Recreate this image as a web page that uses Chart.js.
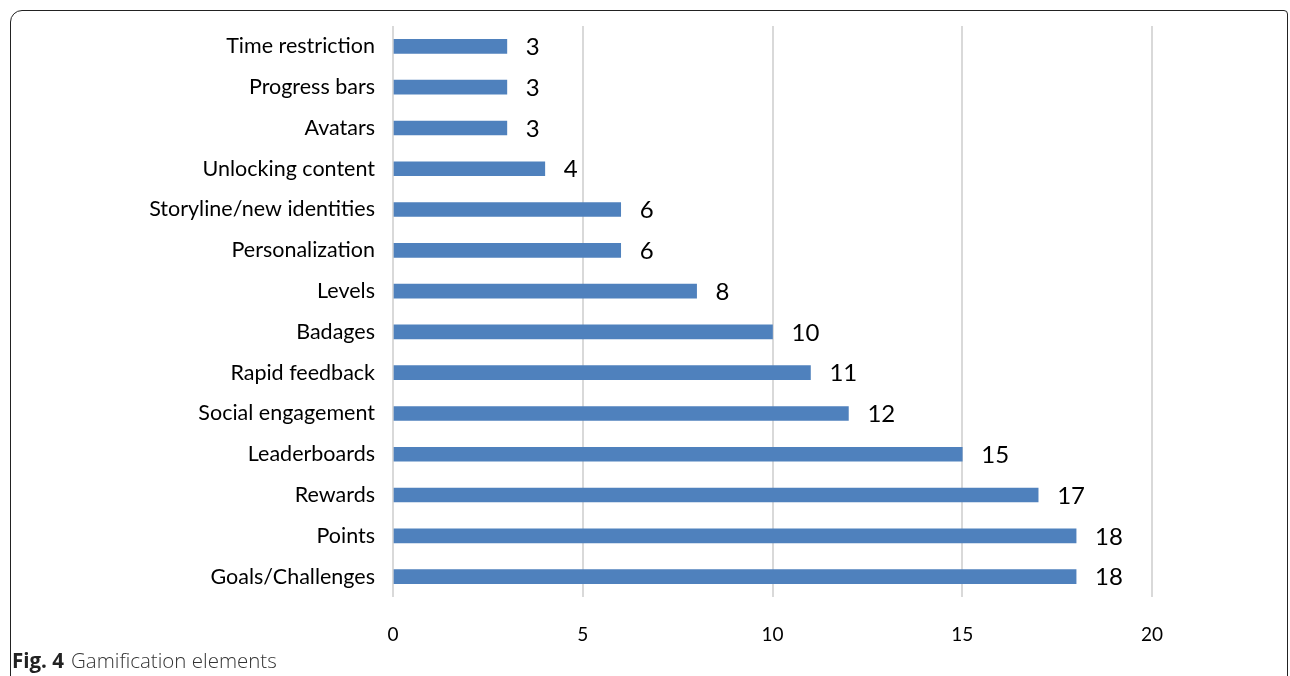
<!DOCTYPE html>
<html lang="en">
<head>
    <meta charset="UTF-8">
    <title>Gamification elements</title>
    <style>
        body {
            margin: 0;
            padding: 0;
            background-color: #fff;
            width: 1290px;
            height: 676px;
            overflow: hidden;
            position: relative;
            font-family: Lato, "Open Sans", sans-serif;
        }

        #frame {
            position: absolute;
            left: 10px;
            top: 10px;
            width: 1276px;
            height: 800px;
            border: 1.5px solid #222;
            border-top-left-radius: 12px;
            border-top-right-radius: 4px;
        }

        #chartBox {
            position: absolute;
            left: 0;
            top: 0;
            width: 1290px;
            height: 676px;
        }

        #caption {
            position: absolute;
            left: 12px;
            top: 646px;
            font-size: 20.5px;
            color: #333;
            font-family: "Open Sans", Lato, sans-serif;
        }

        #caption b {
            color: #222;
            margin-right: 7px;
        }
    </style>
</head>
<body>
    <div id="frame"></div>
    <div id="chartBox"><canvas id="elementsChart" width="1290" height="676"></canvas></div>
    <div id="caption"><b>Fig. 4</b><span style="font-weight:300">Gamification elements</span></div>

    <script src="https://cdn.jsdelivr.net/npm/chart.js"></script>
    <script>
        // top to bottom, as in the figure
        const elements = [
            'Time restriction', 'Progress bars', 'Avatars', 'Unlocking content',
            'Storyline/new identities', 'Personalization', 'Levels', 'Badages',
            'Rapid feedback', 'Social engagement', 'Leaderboards', 'Rewards',
            'Points', 'Goals/Challenges'
        ];
        const studyCounts = [3, 3, 3, 4, 6, 6, 8, 10, 11, 12, 15, 17, 18, 18];
        const xTicks = [0, 5, 10, 15, 20];

        // value labels to the right of each bar
        const valueLabels = {
            id: 'valueLabels',
            afterDatasetsDraw(chart) {
                const ctx = chart.ctx;
                const meta = chart.getDatasetMeta(0);
                ctx.save();
                ctx.font = '24px Lato, "Open Sans", sans-serif';
                ctx.fillStyle = '#000';
                ctx.textBaseline = 'middle';
                ctx.textAlign = 'left';
                meta.data.forEach((bar, i) => {
                    ctx.fillText(String(studyCounts[i]), bar.x + 19, bar.y + 1);
                });
                ctx.restore();
            }
        };

        const ctx = document.getElementById('elementsChart').getContext('2d');
        new Chart(ctx, {
            type: 'bar',
            data: {
                labels: elements,
                datasets: [{
                    data: studyCounts,
                    backgroundColor: '#4f81bd',
                    barThickness: 14
                }]
            },
            options: {
                indexAxis: 'y',
                responsive: false,
                animation: false,
                layout: { padding: { top: 26, right: 138, left: 0, bottom: 0 } },
                plugins: {
                    legend: { display: false },
                    tooltip: { enabled: false }
                },
                scales: {
                    x: {
                        min: 0,
                        max: 20,
                        afterBuildTicks(axis) {
                            axis.ticks = xTicks.map(v => ({ value: v }));
                        },
                        afterFit(axis) { axis.height = 79; },
                        grid: { color: '#d9d9d9', lineWidth: 2, drawTicks: false },
                        border: { display: false },
                        ticks: {
                            padding: 26,
                            color: '#000',
                            font: { family: 'Lato, "Open Sans", sans-serif', size: 19 }
                        }
                    },
                    y: {
                        afterFit(axis) { axis.width = 393; },
                        grid: { display: false, drawTicks: false },
                        border: { display: false },
                        ticks: {
                            padding: 18,
                            color: '#000',
                            font: { family: 'Lato, "Open Sans", sans-serif', size: 21.5, lineHeight: 0.4 }
                        }
                    }
                }
            },
            plugins: [valueLabels]
        });
    </script>
</body>
</html>
